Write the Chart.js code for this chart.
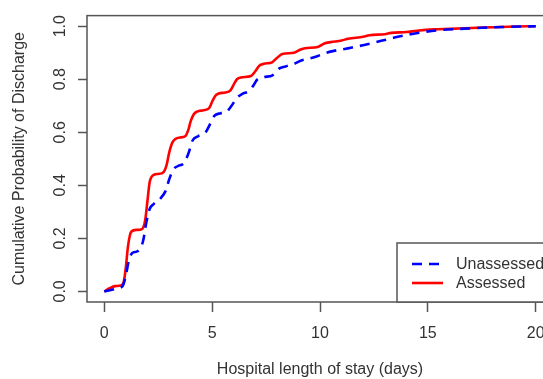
<!DOCTYPE html>
<html>
<head>
<meta charset="utf-8">
<script src="https://cdn.jsdelivr.net/npm/chart.js@4/dist/chart.umd.min.js"></script>
<style>
  html, body { margin: 0; padding: 0; background: #fff; overflow: hidden; }
  #wrap { width: 543px; height: 379px; overflow: hidden; }
</style>
</head>
<body>
<div id="wrap"><canvas id="losChart" width="570" height="379"></canvas></div>
<script>
// values
const assessedDays = [0, 0.25, 0.5, 0.75, 0.9, 1.0, 1.1, 1.25, 1.5, 1.75, 1.9, 2.0, 2.1, 2.25, 2.5, 2.75, 2.9, 3.0, 3.15, 3.3, 3.5, 3.75, 3.9, 4.0, 4.15, 4.3, 4.6, 4.85, 5.0, 5.15, 5.3, 5.6, 5.85, 6.0, 6.15, 6.35, 6.8, 7.0, 7.2, 7.4, 7.8, 8.0, 8.25, 8.8, 9.1, 9.3, 9.9, 10.2, 10.5, 11.0, 11.3, 12.0, 12.3, 13.0, 13.3, 14.0, 14.5, 15.3, 16.0, 17.0, 18.0, 19.0, 20.0];
const assessedProb = [0, 0.012, 0.02, 0.022, 0.035, 0.09, 0.17, 0.225, 0.232, 0.235, 0.27, 0.34, 0.41, 0.437, 0.443, 0.45, 0.48, 0.52, 0.56, 0.575, 0.58, 0.585, 0.61, 0.64, 0.668, 0.678, 0.683, 0.69, 0.715, 0.738, 0.746, 0.75, 0.758, 0.78, 0.8, 0.807, 0.812, 0.83, 0.852, 0.858, 0.865, 0.88, 0.895, 0.9, 0.912, 0.917, 0.922, 0.935, 0.94, 0.946, 0.953, 0.96, 0.966, 0.97, 0.975, 0.978, 0.983, 0.988, 0.99, 0.993, 0.996, 0.999, 1.0];

const unassessedDays = [0, 0.3, 0.6, 0.85, 1.0, 1.15, 1.3, 1.5, 1.65, 1.8, 1.95, 2.1, 2.3, 2.6, 2.85, 3.0, 3.2, 3.4, 3.7, 3.9, 4.1, 4.35, 4.7, 4.9, 5.1, 5.4, 5.7, 5.9, 6.15, 6.4, 6.7, 6.9, 7.1, 7.4, 7.8, 8.1, 8.4, 8.8, 9.1, 9.5, 9.9, 10.3, 10.7, 11.2, 11.6, 12.1, 12.6, 13.1, 13.6, 14.2, 14.8, 15.5, 16.5, 17.5, 18.5, 20.0];
const unassessedProb = [0, 0.005, 0.012, 0.02, 0.06, 0.12, 0.145, 0.15, 0.16, 0.19, 0.26, 0.31, 0.33, 0.35, 0.38, 0.42, 0.46, 0.472, 0.485, 0.52, 0.57, 0.585, 0.6, 0.63, 0.662, 0.672, 0.68, 0.7, 0.73, 0.745, 0.755, 0.775, 0.8, 0.808, 0.815, 0.84, 0.848, 0.858, 0.87, 0.878, 0.888, 0.9, 0.908, 0.915, 0.922, 0.93, 0.94, 0.95, 0.96, 0.97, 0.978, 0.985, 0.99, 0.994, 0.997, 1.0];

const xTicks = [0, 5, 10, 15, 20];
const yTicks = [0, 0.2, 0.4, 0.6, 0.8, 1.0];

const axisColor = '#555';
const textColor = '#333';

Chart.defaults.font.family = "'Liberation Sans', Arial, sans-serif";
Chart.defaults.font.size = 16;
Chart.defaults.color = textColor;

function toPoints(xs, ys) {
    return xs.map((x, i) => ({ x: x, y: ys[i] }));
}

// R style box round the plot plus a bottom-right legend
const rFrame = {
    id: 'rFrame',
    afterDraw(chart) {
        const ctx = chart.ctx;
        const a = chart.chartArea;
        ctx.save();
        ctx.strokeStyle = axisColor;
        ctx.lineWidth = 1.5;
        ctx.strokeRect(a.left, a.top, a.right - a.left, a.bottom - a.top);

        const boxW = 156, boxH = 59;
        const bx = a.right - boxW, by = a.bottom - boxH;
        ctx.fillStyle = '#fff';
        ctx.fillRect(bx, by, boxW, boxH);
        ctx.strokeRect(bx, by, boxW, boxH);

        ctx.font = "16px 'Liberation Sans', Arial, sans-serif";
        ctx.textBaseline = 'middle';
        ctx.textAlign = 'left';
        chart.data.datasets.forEach((ds, i) => {
            const ly = by + 21 + i * 19;
            ctx.strokeStyle = ds.borderColor;
            ctx.lineWidth = ds.borderWidth;
            ctx.setLineDash(ds.borderDash || []);
            ctx.beginPath();
            ctx.moveTo(bx + 15, ly);
            ctx.lineTo(bx + 46, ly);
            ctx.stroke();
            ctx.setLineDash([]);
            ctx.fillStyle = textColor;
            ctx.fillText(ds.label, bx + 59, ly + 1);
        });
        ctx.restore();
    }
};

new Chart(document.getElementById('losChart'), {
    type: 'line',
    data: {
        datasets: [
            {
                label: 'Unassessed',
                data: toPoints(unassessedDays, unassessedProb),
                borderColor: '#0000ff',
                borderWidth: 2.6,
                borderDash: [10, 7],
                pointRadius: 0,
                cubicInterpolationMode: 'monotone',
                fill: false
            },
            {
                label: 'Assessed',
                data: toPoints(assessedDays, assessedProb),
                borderColor: '#ff0000',
                borderWidth: 2.6,
                pointRadius: 0,
                cubicInterpolationMode: 'monotone',
                fill: false
            }
        ]
    },
    plugins: [rFrame],
    options: {
        responsive: false,
        animation: false,
        layout: { padding: { top: 13, right: 17, left: 0, bottom: 0 } },
        plugins: {
            legend: { display: false },
            tooltip: { enabled: false }
        },
        scales: {
            x: {
                type: 'linear',
                min: -0.8,
                max: 20.8,
                afterBuildTicks: (scale) => { scale.ticks = xTicks.map(v => ({ value: v })); },
                afterFit: (scale) => { scale.height = 77; },
                grid: { drawOnChartArea: false, drawTicks: true, tickLength: 10, tickColor: axisColor, tickWidth: 1.5 },
                border: { display: false },
                ticks: { padding: 12, color: textColor, maxRotation: 0 },
                title: { display: true, text: 'Hospital length of stay (days)', color: textColor, padding: { top: 0, bottom: 0 } }
            },
            y: {
                type: 'linear',
                min: -0.04,
                max: 1.04,
                afterBuildTicks: (scale) => { scale.ticks = yTicks.map(v => ({ value: v })); },
                afterFit: (scale) => { scale.width = 87; },
                grid: { drawOnChartArea: false, drawTicks: true, tickLength: 9, tickColor: axisColor, tickWidth: 1.5 },
                border: { display: false },
                ticks: {
                    padding: 6,
                    color: textColor,
                    minRotation: 90,
                    maxRotation: 90,
                    crossAlign: 'center',
                    callback: (v) => Number(v).toFixed(1)
                },
                title: { display: true, text: 'Cumulative Probability of Discharge', color: textColor, padding: { top: 10, bottom: 0 } }
            }
        }
    }
});
</script>
</body>
</html>
